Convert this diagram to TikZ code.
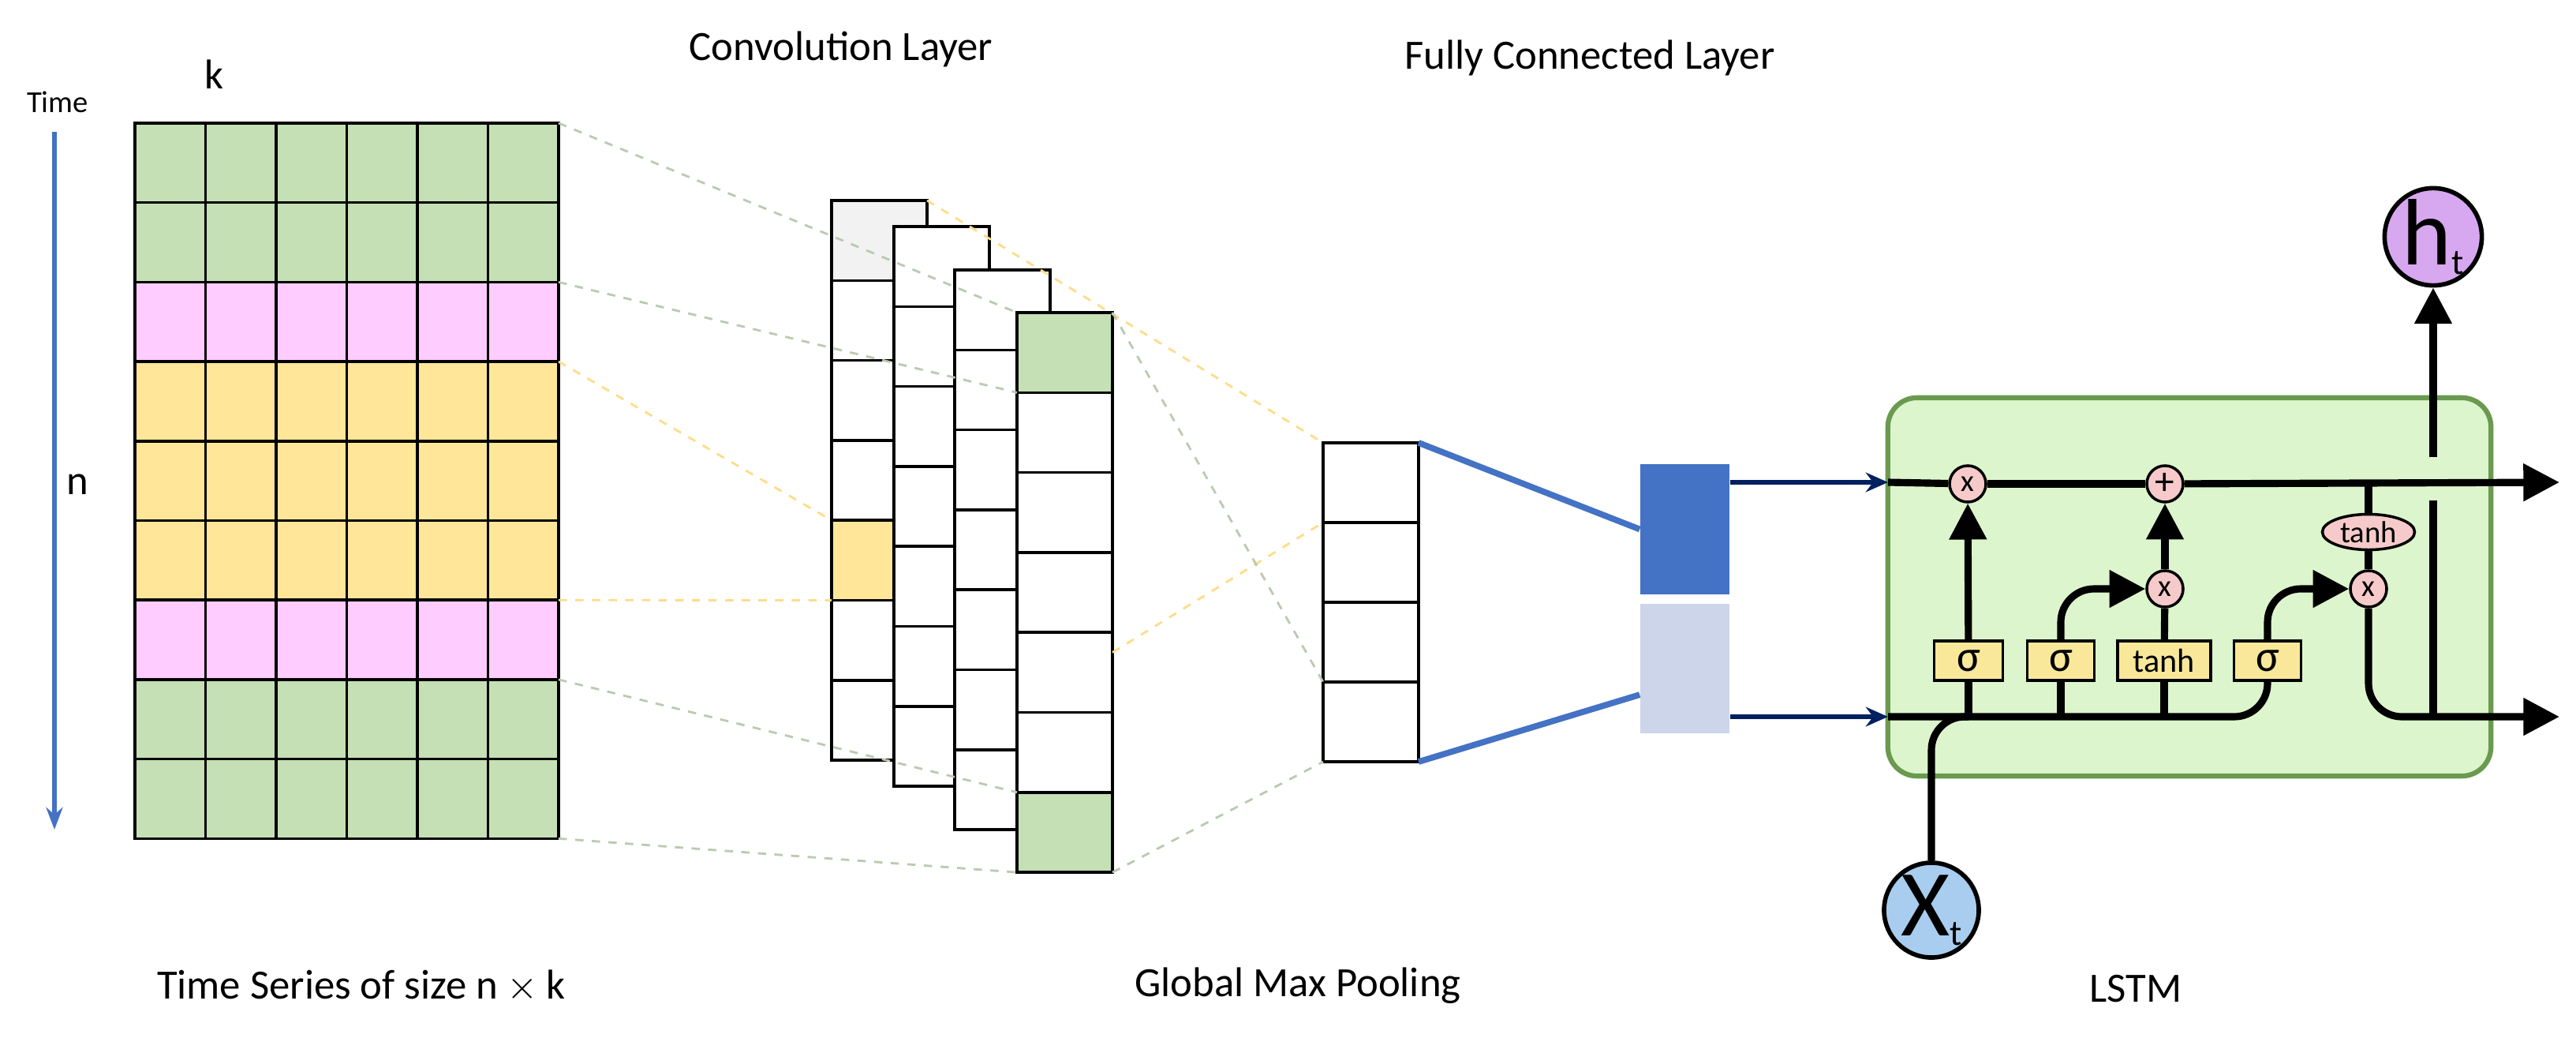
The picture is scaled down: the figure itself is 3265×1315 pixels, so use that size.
\documentclass[tikz,border=0pt]{standalone}
\usepackage{fontspec}
\setmainfont{Carlito}
\usepackage{tikz}
\usetikzlibrary{calc,shapes.geometric,arrows.meta}
\definecolor{gridgreen}{HTML}{C5E0B4}
\definecolor{gridpink}{HTML}{FFCCFF}
\definecolor{gridyellow}{HTML}{FFE699}
\definecolor{convgray}{HTML}{F2F2F2}
\definecolor{fcdark}{HTML}{4472C4}
\definecolor{fclight}{HTML}{CDD5EA}
\definecolor{navy}{HTML}{002060}
\definecolor{boxfill}{HTML}{DDF5CC}
\definecolor{boxline}{HTML}{6A9A4F}
\definecolor{opfill}{HTML}{F6CACA}
\definecolor{gatefill}{HTML}{F9E89A}
\definecolor{htfill}{HTML}{D7A8F0}
\definecolor{xtfill}{HTML}{A9CDEE}
\tikzstyle{cell} = [rectangle, draw, line width=1pt, inner sep=0pt, outer sep=0pt]
\tikzstyle{ccell} = [cell, minimum width=1.21cm, minimum height=1.013cm]
\tikzstyle{dgreen} = [draw=gridgreen!80!black!70, dashed, line width=0.8pt]
\tikzstyle{dyellow} = [draw=gridyellow!90!orange, dashed, line width=0.8pt]
\tikzstyle{blueline} = [draw=fcdark, line width=2.2pt]
\tikzstyle{inarrow} = [draw=navy, line width=1.8pt, -{Stealth[length=8pt,width=7pt]}]
\tikzstyle{flow} = [draw, line width=2.6pt]
\tikzstyle{tip} = [-{Triangle[length=13pt,width=13pt]}]
\tikzstyle{op} = [circle, draw, fill=opfill, line width=1pt, minimum size=0.46cm, inner sep=0pt, font=\fontsize{11}{11}\selectfont]
\tikzstyle{gate} = [rectangle, draw, fill=gatefill, line width=1pt, minimum height=0.5cm, inner sep=0pt]
\tikzstyle{label} = [font=\fontsize{15}{18}\selectfont]

\begin{document}
\begin{tikzpicture}[x=0.01cm, y=-0.01cm]
    \useasboundingbox (0,0) rectangle (3265,1315);

    % input series
    \foreach \r/\col in {1/gridgreen,2/gridgreen,3/gridpink,4/gridyellow,5/gridyellow,6/gridyellow,7/gridpink,8/gridgreen,9/gridgreen}
        \foreach \c in {1,...,6}
            \node [cell, fill=\col, minimum width=0.895cm, minimum height=1.007cm] (g-\r-\c) at ({171+89.5*(\c-0.5)},{156+100.7*(\r-0.5)}) {};
    \node [label] (k) at (271,94) {k};
    \node [label] (n) at (98,614) {n};
    \node [font=\fontsize{11}{13}\selectfont] (time) at (73,129) {Time};
    \coordinate (tstart) at (69,167);
    \coordinate (tend) at (69,1051);
    \draw [draw=fcdark, line width=1.8pt, -{Stealth[length=8pt,width=6pt]}] (tstart) -- (tend);

    % convolution layer
    \foreach \k/\x/\y/\fills in {1/1054/254/{convgray,white,white,white,gridyellow,white,white},
                                 2/1133/287/{white,white,white,white,white,white,white},
                                 3/1210/342/{white,white,white,white,white,white,white},
                                 4/1289/396/{gridgreen,white,white,white,white,white,gridgreen}}
        \foreach \f [count=\r] in \fills
            \node [ccell, fill=\f] (c\k-\r) at ({\x+60.5},{\y+101.3*(\r-0.5)}) {};

    % global max pooling
    \foreach \r in {1,...,4}
        \node [ccell, fill=white, minimum height=1.01cm] (p-\r) at (1737.5,{561+101*(\r-0.5)}) {};

    % fully connected
    \node [rectangle, fill=fcdark, minimum width=1.13cm, minimum height=1.65cm, inner sep=0pt] (fc1) at (2135.5,670.5) {};
    \node [rectangle, fill=fclight, minimum width=1.13cm, minimum height=1.64cm, inner sep=0pt] (fc2) at (2135.5,847) {};

    \path [dgreen] (g-1-6.north east) -- (c4-1.north west);
    \path [dgreen] (g-2-6.south east) -- (c4-1.south west);
    \path [dyellow] (g-4-6.north east) -- (c1-5.north west);
    \path [dyellow] (g-6-6.south east) -- (c1-5.south west);
    \path [dgreen] (g-8-6.north east) -- (c4-7.north west);
    \path [dgreen] (g-9-6.south east) -- (c4-7.south west);
    \path [dyellow] (c1-1.north east) -- (p-1.north west);
    \path [dyellow] ($(c4-5.north east)!0.25!(c4-5.south east)$) -- (p-2.north west);
    \path [dgreen] (c4-1.north east) -- (p-4.north west);
    \path [dgreen] (c4-7.south east) -- (p-4.south west);
    \path [blueline] (p-1.north east) -- (fc1.west);
    \path [blueline] (p-4.south east) -- ($(fc2.west)!0.4!(fc2.south west)$);

    % LSTM cell
    \node [rectangle, rounded corners=0.37cm, draw=boxline, line width=1.8pt, fill=boxfill, minimum width=7.64cm, minimum height=4.79cm] (lstm) at (2775,743.5) {};
    \coordinate (cin) at (2393,611);
    \coordinate (cout) at (3244,611);
    \coordinate (hin) at (2393,908);
    \coordinate (hout) at (3244,908);
    \coordinate (gapb) at (3084,634);
    \coordinate (gapt) at (3084,579);
    \node [op] (m1) at (2494,613) {x};
    \node [op, font=\fontsize{14}{14}\selectfont] (add) at (2744,613) {+};
    \node [op] (m2) at (2744,746) {x};
    \node [op] (m3) at (3002,746) {x};
    \node [ellipse, draw, fill=opfill, line width=1pt, minimum width=1.17cm, minimum height=0.45cm, inner sep=0pt, font=\fontsize{11}{11}\selectfont] (tn) at (3002,674) {tanh};
    \node [gate, minimum width=0.87cm, font=\fontsize{16}{16}\selectfont] (s1) at (2495,837) {σ};
    \node [gate, minimum width=0.85cm, font=\fontsize{16}{16}\selectfont] (s2) at (2612,837) {σ};
    \node [gate, minimum width=1.18cm, font=\fontsize{12}{12}\selectfont] (tg) at (2743,837) {tanh};
    \node [gate, minimum width=0.85cm, font=\fontsize{16}{16}\selectfont] (s3) at (2874,837) {σ};
    \node [circle, draw, fill=htfill, line width=1.6pt, minimum size=1.18cm, inner sep=0pt] (ht) at (3084,300) {\fontsize{34}{34}\selectfont h\raisebox{-0.1em}{\fontsize{13}{13}\selectfont t}};
    \node [circle, draw, fill=xtfill, line width=1.6pt, minimum size=1.2cm, inner sep=0pt] (xt) at (2448,1153) {\fontsize{34}{34}\selectfont X\raisebox{-0.1em}{\fontsize{13}{13}\selectfont t}};

    \path [inarrow] (fc1.east |- cin) -- (cin);
    \path [inarrow] (fc2.east |- hin) -- (hin);

    \path [flow] (cin) -- (m1);
    \path [flow] (m1) -- (add);
    \path [flow, tip] (add) -- (cout);
    \path [flow] (tn.north) -- (tn.north |- cin);
    \path [flow] (tn) -- (m3);
    \path [flow, tip] (s1) -- (m1);
    \path [flow, tip, rounded corners=12] (s2.north) |- (m2);
    \path [flow] (tg) -- (m2);
    \path [flow, tip] (m2) -- (add);
    \path [flow, tip, rounded corners=12] (s3.north) |- (m3);
    \path [flow, rounded corners=12] (hin) -| (s3.south);
    \path [flow] (s1.south) -- (s1.south |- hin);
    \path [flow] (s2.south) -- (s2.south |- hin);
    \path [flow] (tg.south) -- (tg.south |- hin);
    \path [flow, rounded corners=12] (xt.north) |- (s1.south |- hin);
    \path [flow, tip, rounded corners=12] (m3.south) |- (hout);
    \path [flow] (ht.south |- hout) -- (gapb);
    \path [flow, tip] (gapt) -- (ht);

    % captions
    \node [label] (tconv) at (1066,62) {Convolution Layer};
    \node [label] (tfc) at (2015,73) {Fully Connected Layer};
    \node [label] (tts) at (458,1249) {Time Series of size $\mathrm{n}\times\mathrm{k}$};
    \node [label] (tgmp) at (1645,1249) {Global Max Pooling};
    \node [label] (tlstm) at (2707,1253) {LSTM};
\end{tikzpicture}
\end{document}
